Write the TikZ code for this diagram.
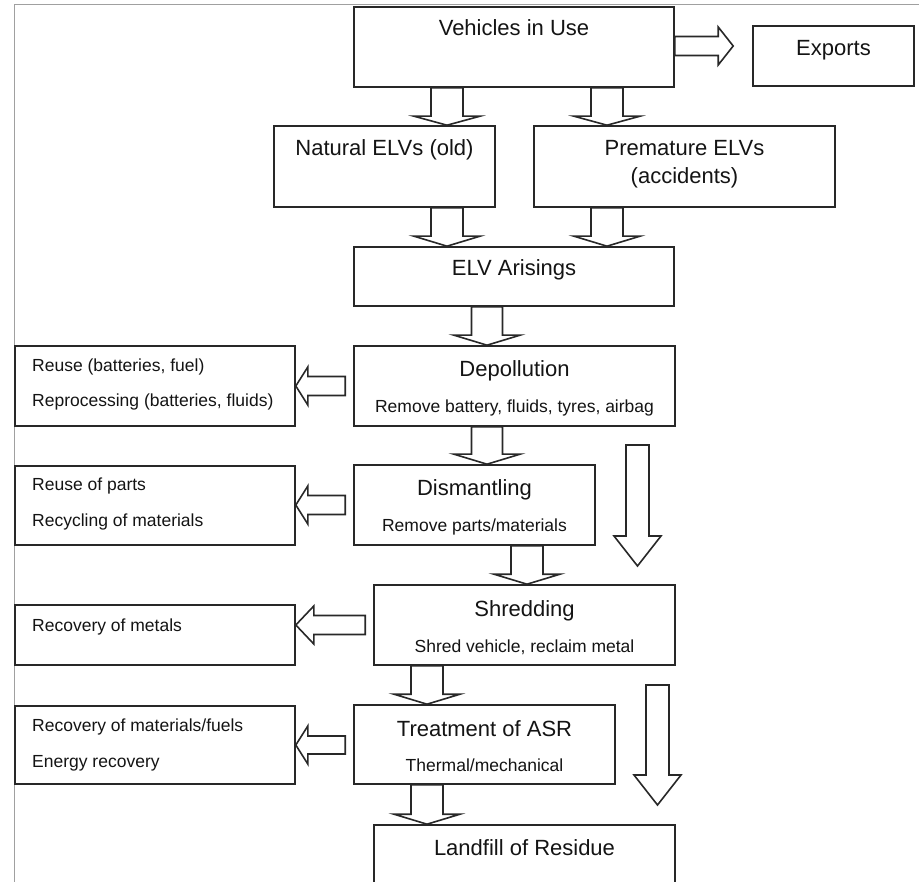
\documentclass[tikz,border=0pt]{standalone}
\usepackage{fontspec}
\setmainfont{Liberation Sans}
\usetikzlibrary{calc}
\definecolor{boxc}{RGB}{40,40,40}
\definecolor{framec}{RGB}{160,160,160}
\definecolor{txtc}{RGB}{20,20,20}
\tikzset{
  box/.style={draw=boxc, line width=1.6pt, inner sep=0pt},
  big/.style={font=\fontsize{22}{26}\selectfont, inner sep=0pt, text=txtc, anchor=base},
  small/.style={font=\fontsize{17.5}{21}\selectfont, inner sep=0pt, text=txtc, anchor=base},
  lsmall/.style={small, anchor=base west},
  blk/.style={draw=boxc, line width=1.6pt, line join=miter, fill=white},
  frame/.style={draw=framec, line width=1pt}
}
% down block arrow: #1 centre x, #2 from node, #3 to node, #4 half shaft, #5 half head, #6 head length
\newcommand\blkdown[6]{%
  \draw[blk] let \p1=(#2.south), \p2=(#3.north) in
    ({(#1-#4)*1pt},\y1) -- ({(#1-#4)*1pt},{\y2+#6pt}) -- ({(#1-#5)*1pt},{\y2+#6pt})
    -- ({#1*1pt},\y2) -- ({(#1+#5)*1pt},{\y2+#6pt}) -- ({(#1+#4)*1pt},{\y2+#6pt})
    -- ({(#1+#4)*1pt},\y1) -- cycle;}
% left block arrow: #1 centre y, #2 from node, #3 to node, #4 half shaft, #5 half head, #6 head length
\newcommand\blkleft[6]{%
  \draw[blk] let \p1=(#2.west), \p2=(#3.east) in
    ({\x1-8pt},{-(#1-#4)*1pt}) -- ({\x2+#6pt},{-(#1-#4)*1pt}) -- ({\x2+#6pt},{-(#1-#5)*1pt})
    -- (\x2,{-#1*1pt}) -- ({\x2+#6pt},{-(#1+#5)*1pt}) -- ({\x2+#6pt},{-(#1+#4)*1pt})
    -- ({\x1-8pt},{-(#1+#4)*1pt}) -- cycle;}
\begin{document}
\begin{tikzpicture}[x=1pt,y=-1pt]
\useasboundingbox (0,0) rectangle (919,882);
\clip (0,0) rectangle (919,882);
\fill[white] (0,0) rectangle (919,882);
\draw[frame] (14,890) -- (14,5) -- (925,5);

% boxes
\node[box, minimum width=320pt, minimum height=80pt] (veh) at (514,47) {};
\node[box, minimum width=161pt, minimum height=60pt] (exp) at (833.5,56) {};
\node[box, minimum width=221pt, minimum height=81pt] (nat) at (384.5,166.5) {};
\node[box, minimum width=301pt, minimum height=81pt] (pre) at (684.5,166.5) {};
\node[box, minimum width=320pt, minimum height=59pt] (elv) at (514,276.5) {};
\node[box, minimum width=321pt, minimum height=80pt] (dep) at (514.5,386) {};
\node[box, minimum width=280pt, minimum height=80pt] (reu) at (155,386) {};
\node[box, minimum width=241pt, minimum height=80pt] (dis) at (474.5,505) {};
\node[box, minimum width=280pt, minimum height=79pt] (rpt) at (155,505.5) {};
\node[box, minimum width=301pt, minimum height=80pt] (shr) at (524.5,625) {};
\node[box, minimum width=280pt, minimum height=60pt] (met) at (155,635) {};
\node[box, minimum width=261pt, minimum height=79pt] (trt) at (484.5,744.5) {};
\node[box, minimum width=280pt, minimum height=78pt] (rmf) at (155,745) {};
\node[box, minimum width=301pt, minimum height=80pt] (lan) at (524.5,865) {};

% texts
\node[big] (vehT) at (514,36) {Vehicles in Use};
\node[big] (expT) at (833.5,56) {Exports};
\node[big] (natT) at (384.5,156) {Natural ELVs (old)};
\node[big] (preT) at (684.5,156) {Premature ELVs};
\node[big] (preT2) at (684.5,184) {(accidents)};
\node[big] (elvT) at (514,276) {ELV Arisings};
\node[big] (depT) at (514.5,377) {Depollution};
\node[small] (depS) at (514.5,413) {Remove battery, fluids, tyres, airbag};
\node[lsmall] (reuT) at (32,372) {Reuse (batteries, fuel)};
\node[lsmall] (reuT2) at (32,407) {Reprocessing (batteries, fluids)};
\node[big] (disT) at (474.5,496) {Dismantling};
\node[small] (disS) at (474.5,532) {Remove parts/materials};
\node[lsmall] (rptT) at (32,491) {Reuse of parts};
\node[lsmall] (rptT2) at (32,527) {Recycling of materials};
\node[big] (shrT) at (524.5,616) {Shredding};
\node[small] (shrS) at (524.5,652) {Shred vehicle, reclaim metal};
\node[lsmall] (metT) at (32,631) {Recovery of metals};
\node[big] (trtT) at (484.5,736) {Treatment of ASR};
\node[small] (trtS) at (484.5,771) {Thermal/mechanical};
\node[lsmall] (rmfT) at (32,731) {Recovery of materials/fuels};
\node[lsmall] (rmfT2) at (32,767) {Energy recovery};
\node[big] (lanT) at (524.5,855) {Landfill of Residue};

% down block arrows
\blkdown{447}{veh}{nat}{16}{33}{9}
\blkdown{607}{veh}{pre}{16}{33}{9}
\blkdown{447}{nat}{elv}{16}{33}{10}
\blkdown{607}{pre}{elv}{16}{33}{10}
\blkdown{487}{elv}{dep}{15.5}{33}{10}
\blkdown{487}{dep}{dis}{15.5}{33}{10}
\blkdown{527}{dis}{shr}{16}{33}{10}
\blkdown{427}{shr}{trt}{16}{33}{10}
\blkdown{427}{trt}{lan}{16}{33}{10}

% left block arrows
\blkleft{386}{dep}{reu}{9.5}{19}{12}
\blkleft{505}{dis}{rpt}{9.5}{19}{12}
\blkleft{625}{shr}{met}{9.5}{19}{18}
\blkleft{745}{trt}{rmf}{9}{19}{12}

% right block arrow to Exports
\draw[blk] let \p1=(veh.east), \p2=(exp.west) in
  (\x1,-36.5pt) -- ({\x2-34pt},-36.5pt) -- ({\x2-34pt},-27pt) -- ({\x2-19pt},-46pt)
  -- ({\x2-34pt},-65pt) -- ({\x2-34pt},-55.5pt) -- (\x1,-55.5pt) -- cycle;

% freestanding bypass arrows
\draw[blk] (626,445) -- (626,536) -- (614,536) -- (637.5,566) -- (661,536) -- (649,536) -- (649,445) -- cycle;
\draw[blk] (646,685) -- (646,775) -- (634,775) -- (657.5,805) -- (681,775) -- (669,775) -- (669,685) -- cycle;
\end{tikzpicture}
\end{document}
